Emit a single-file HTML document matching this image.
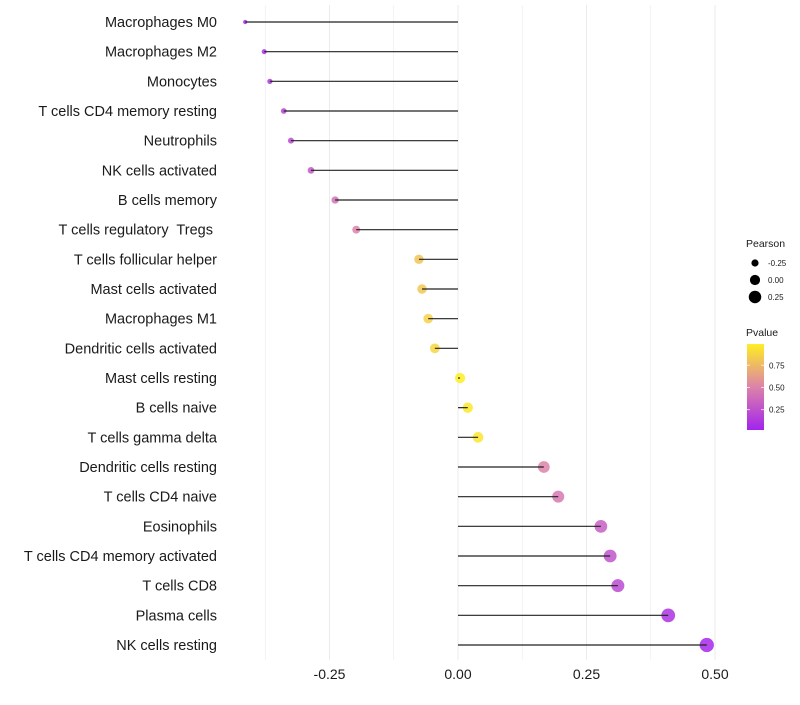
<!DOCTYPE html>
<html><head><meta charset="utf-8"><style>
body{margin:0;background:#fff;}
svg text{font-family:"Liberation Sans",sans-serif;white-space:pre;}
</style></head><body>
<svg id="chart" width="800" height="700"></svg>
<script>
const categories=["Macrophages M0","Macrophages M2","Monocytes","T cells CD4 memory resting","Neutrophils","NK cells activated","B cells memory","T cells regulatory  Tregs ","T cells follicular helper","Mast cells activated","Macrophages M1","Dendritic cells activated","Mast cells resting","B cells naive","T cells gamma delta","Dendritic cells resting","T cells CD4 naive","Eosinophils","T cells CD4 memory activated","T cells CD8","Plasma cells","NK cells resting"];
const pearson=[-0.414,-0.377,-0.366,-0.339,-0.325,-0.286,-0.239,-0.198,-0.076,-0.070,-0.058,-0.045,0.004,0.019,0.039,0.167,0.195,0.278,0.296,0.311,0.409,0.484];
const pvalues=[0.05,0.08,0.12,0.18,0.22,0.28,0.42,0.5,0.8,0.82,0.86,0.88,0.99,0.97,0.95,0.5,0.45,0.32,0.27,0.22,0.1,0.04];
const xTicks=[-0.25,0,0.25,0.5];
const xTickLabels=["-0.25","0.00","0.25","0.50"];
const legendSizes=[-0.25,0,0.25];
const legendSizeLabels=["-0.25","0.00","0.25"];
const pTicks=[0.25,0.5,0.75];
const pTickLabels=["0.25","0.50","0.75"];

const NS="http://www.w3.org/2000/svg";
const svg=document.getElementById('chart');
function el(t,a,p){const e=document.createElementNS(NS,t);for(const k in a)e.setAttribute(k,a[k]);(p||svg).appendChild(e);return e;}
const x=v=>458+v*514;
const y=i=>22+i*(623/21);
const r=v=>Math.sqrt(Math.max(1,26+52*v));
function col(p){const a=[160,32,240],b=[220,130,170],c=[255,240,32];let t,s,e;
 if(p<0.5){t=p/0.5;s=a;e=b;}else{t=(p-0.5)/0.5;s=b;e=c;}
 return `rgb(${s.map((v,i)=>Math.round(v+(e[i]-v)*t)).join(',')})`;}
for(let v=-0.375;v<=0.51;v+=0.125){const g=el('line',{x1:x(v),x2:x(v),y1:5,y2:660,stroke:'#ebebeb','stroke-width':Math.abs((v*8)%2)<0.01?1:0.6});
}
xTicks.forEach((v,i)=>{const t=el('text',{x:x(v),y:679,'text-anchor':'middle','font-size':14,fill:'#1a1a1a'});t.textContent=xTickLabels[i];
});
categories.forEach((c,i)=>{
 const t=el('text',{x:217,y:y(i)+5,'text-anchor':'end','font-size':14.5,fill:'#1a1a1a','xml:space':'preserve'});t.textContent=c;
 
 const d=el('circle',{cx:x(pearson[i]),cy:y(i),r:r(pearson[i]),fill:col(pvalues[i]),'fill-opacity':0.85});
 
 const l=el('line',{x1:x(0),x2:x(pearson[i]),y1:y(i),y2:y(i),stroke:'#222','stroke-width':1.2});
 
});
let t=el('text',{x:746,y:247,'font-size':10.5,fill:'#1a1a1a'});t.textContent='Pearson';

legendSizes.forEach((v,i)=>{const cy=263+i*17;
 const c=el('circle',{cx:755,cy:cy,r:r(v),fill:'#000'});
 const tt=el('text',{x:768,y:cy+3,'font-size':8,fill:'#1a1a1a'});tt.textContent=legendSizeLabels[i];
 });
t=el('text',{x:746,y:336,'font-size':10.5,fill:'#1a1a1a'});t.textContent='Pvalue';

const defs=el('defs',{});const gr=el('linearGradient',{id:'pg',x1:0,y1:1,x2:0,y2:0},defs);
[0,0.25,0.5,0.75,1].forEach(o=>el('stop',{offset:o,'stop-color':col(0.02+o*0.97)},gr));
const bar=el('rect',{x:747,y:344,width:17,height:86,fill:'url(#pg)'});

const py=p=>430-(p-0.02)/0.97*86;
pTicks.forEach((p,i)=>{el('line',{x1:747,x2:750,y1:py(p),y2:py(p),stroke:'#fff','stroke-opacity':0.7});el('line',{x1:761,x2:764,y1:py(p),y2:py(p),stroke:'#fff','stroke-opacity':0.7});
 const tt=el('text',{x:769,y:py(p)+3,'font-size':8,fill:'#1a1a1a'});tt.textContent=pTickLabels[i];
 });
</script>
</body></html>
